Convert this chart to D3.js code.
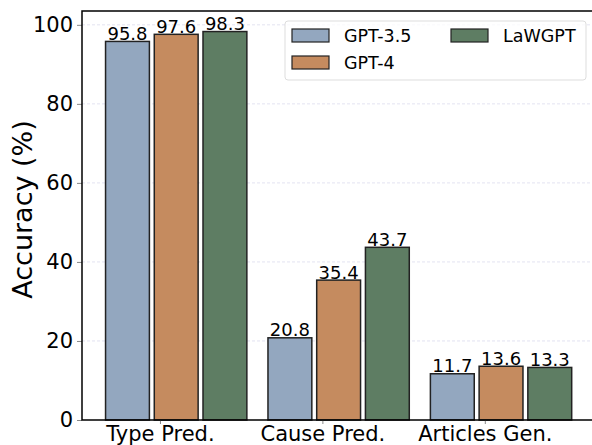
<!DOCTYPE html>
<html>
<head>
<meta charset="utf-8">
<script src="https://cdn.jsdelivr.net/npm/d3@7"></script>
<style>
  body { margin: 0; background: #fff; }
  svg { display: block; font-family: "DejaVu Sans", sans-serif; }
</style>
</head>
<body>
<div id="chart"></div>
<script>
// data
const categories = ["Type Pred.", "Cause Pred.", "Articles Gen."];
const seriesNames = ["GPT-3.5", "GPT-4", "LaWGPT"];
const gpt35 = [95.8, 20.8, 11.7];
const gpt4 = [97.6, 35.4, 13.6];
const lawgpt = [98.3, 43.7, 13.3];
const yTicks = [0, 20, 40, 60, 80, 100];

const seriesColors = ["#93a7bf", "#c58b5f", "#5e7d63"];
const seriesValues = [gpt35, gpt4, lawgpt];

const W = 592, H = 445;
const plotLeft = 82, plotTop = 11, plotBottom = 420;

const svg = d3.select("#chart").append("svg")
    .attr("width", W)
    .attr("height", H);

const x = d3.scaleLinear().domain([-0.48, 2.66]).range([plotLeft, W]);
const y = d3.scaleLinear().domain([0, 103.5]).range([plotBottom, plotTop]);

const barW = 0.27;
const offset = k => -0.2 + 0.3 * k;

// grid
svg.append("g")
    .selectAll("line")
    .data(yTicks.filter(t => t > 0))
    .join("line")
    .attr("x1", plotLeft).attr("x2", W)
    .attr("y1", d => y(d)).attr("y2", d => y(d))
    .attr("stroke", "#dcdcee")
    .attr("stroke-width", 0.8)
    .attr("stroke-dasharray", "3,2");

// bars
const rows = [];
seriesValues.forEach((vals, k) => {
    vals.forEach((v, i) => rows.push({ k, i, v }));
});

svg.append("g")
    .selectAll("rect")
    .data(rows)
    .join("rect")
    .attr("x", d => x(d.i + offset(d.k) - barW / 2))
    .attr("width", d => x(barW) - x(0))
    .attr("y", d => y(d.v))
    .attr("height", d => y(0) - y(d.v))
    .attr("fill", d => seriesColors[d.k])
    .attr("stroke", "#222")
    .attr("stroke-width", 1.5);

svg.append("g")
    .selectAll("text")
    .data(rows)
    .join("text")
    .attr("x", d => x(d.i + offset(d.k)))
    .attr("y", d => y(d.v) - 1.5)
    .attr("text-anchor", "middle")
    .attr("font-size", 18)
    .attr("fill", "#000")
    .text(d => d.v.toFixed(1));

// axes
const yAxis = svg.append("g")
    .attr("transform", `translate(${plotLeft},0)`)
    .call(d3.axisLeft(y).tickValues(yTicks).tickSize(5).tickPadding(4));
yAxis.select(".domain").remove();
yAxis.selectAll("line").attr("stroke", "#888");
yAxis.selectAll("text").attr("font-size", 21).attr("font-family", "DejaVu Sans").attr("fill", "#000");

const xAxis = svg.append("g")
    .attr("transform", `translate(0,${plotBottom})`)
    .call(d3.axisBottom(x).tickValues(d3.range(categories.length))
        .tickFormat(i => categories[i]).tickSize(4).tickPadding(2));
xAxis.select(".domain").remove();
xAxis.selectAll("line").attr("stroke", "#888");
xAxis.selectAll("text").attr("font-size", 21).attr("font-family", "DejaVu Sans").attr("fill", "#000")
    .attr("dy", "0.72em");

// spines (right edge falls outside the window)
svg.append("path")
    .attr("d", `M${W},${plotTop}H${plotLeft}V${plotBottom}H${W}`)
    .attr("fill", "none")
    .attr("stroke", "#000")
    .attr("stroke-width", 1.5);

svg.append("text")
    .attr("transform", `translate(32,${(plotTop + plotBottom) / 2 - 6}) rotate(-90)`)
    .attr("text-anchor", "middle")
    .attr("font-size", 27)
    .text("Accuracy (%)");

// legend
const legend = svg.append("g");
legend.append("rect")
    .attr("x", 285).attr("y", 21)
    .attr("width", 301).attr("height", 59)
    .attr("rx", 3)
    .attr("fill", "#fff").attr("fill-opacity", 0.8)
    .attr("stroke", "#dddddd");

const legendPos = [[292, 29], [292, 56], [451, 29]];
const items = legend.selectAll("g.item")
    .data(seriesNames)
    .join("g")
    .attr("class", "item")
    .attr("transform", (d, k) => `translate(${legendPos[k][0]},${legendPos[k][1]})`);
items.append("rect")
    .attr("width", 37).attr("height", 13)
    .attr("fill", (d, k) => seriesColors[k])
    .attr("stroke", "#222").attr("stroke-width", 1.2);
items.append("text")
    .attr("x", 52).attr("y", 13)
    .attr("font-size", 17.5)
    .text(d => d);
</script>
</body>
</html>
